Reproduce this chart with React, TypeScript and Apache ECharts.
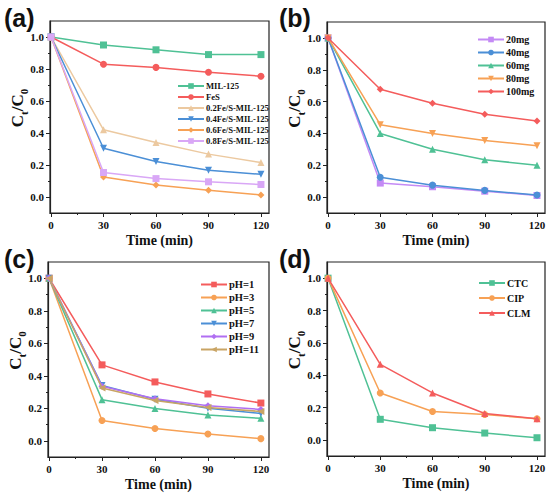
import React, { useEffect, useRef } from "react";
import * as echarts from "echarts";

const TIMES = [0, 30, 60, 90, 120];
const X_TICKS = [0, 30, 60, 90, 120];
const X_MINOR = [15, 45, 75, 105];
const Y_TICKS = [0, 0.2, 0.4, 0.6, 0.8, 1.0];
const Y_MINOR = [0.1, 0.3, 0.5, 0.7, 0.9];

// (a)
const A_NAMES = ["MIL-125", "FeS", "0.2Fe/S-MIL-125", "0.4Fe/S-MIL-125", "0.6Fe/S-MIL-125", "0.8Fe/S-MIL-125"];
const A_MIL = [1.0, 0.95, 0.92, 0.89, 0.89];
const A_FES = [1.0, 0.83, 0.81, 0.78, 0.755];
const A_02 = [1.0, 0.42, 0.34, 0.268, 0.215];
const A_04 = [1.0, 0.305, 0.222, 0.167, 0.142];
const A_06 = [1.0, 0.125, 0.075, 0.042, 0.013];
const A_08 = [1.0, 0.153, 0.115, 0.095, 0.078];

// (b)
const B_NAMES = ["20mg", "40mg", "60mg", "80mg", "100mg"];
const B_20 = [1.0, 0.088, 0.065, 0.037, 0.01];
const B_40 = [1.0, 0.125, 0.075, 0.042, 0.013];
const B_60 = [1.0, 0.4, 0.3, 0.235, 0.2];
const B_80 = [1.0, 0.455, 0.4, 0.355, 0.323];
const B_100 = [1.0, 0.677, 0.59, 0.52, 0.478];

// (c)
const C_NAMES = ["pH=1", "pH=3", "pH=5", "pH=7", "pH=9", "pH=11"];
const C_1 = [1.0, 0.467, 0.362, 0.288, 0.232];
const C_3 = [1.0, 0.125, 0.075, 0.042, 0.013];
const C_5 = [1.0, 0.253, 0.198, 0.158, 0.138];
const C_7 = [1.0, 0.34, 0.255, 0.2, 0.168];
const C_9 = [1.0, 0.335, 0.258, 0.215, 0.193];
const C_11 = [1.0, 0.325, 0.248, 0.205, 0.18];

// (d)
const D_NAMES = ["CTC", "CIP", "CLM"];
const D_CTC = [1.0, 0.127, 0.075, 0.042, 0.013];
const D_CIP = [1.0, 0.29, 0.175, 0.157, 0.13];
const D_CLM = [1.0, 0.467, 0.29, 0.163, 0.13];

const PANEL_LABELS = ["(a)", "(b)", "(c)", "(d)"];

const GREEN = "#4fc195";
const RED = "#f45c5c";
const TAN = "#ecc9a0";
const BLUE = "#4b8fd6";
const ORANGE = "#f7a155";
const LPURPLE = "#d9a7f6";
const PURPLE = "#c48af5";
const VIOLET = "#b06ff2";
const OLIVE = "#c9a464";

const SERIF = "'Liberation Serif', 'Times New Roman', serif";

const grids = [
  { left: 50, top: 21, width: 219, height: 192 },
  { left: 327, top: 22, width: 218, height: 191 },
  { left: 48, top: 262, width: 221, height: 195 },
  { left: 327, top: 262, width: 218, height: 194 },
];

const panels = [
  {
    names: A_NAMES,
    values: [A_MIL, A_FES, A_02, A_04, A_06, A_08],
    colors: [GREEN, RED, TAN, BLUE, ORANGE, LPURPLE],
    symbols: ["rect", "circle", "triangle", "path://M0,0 L10,0 L5,9 Z", "diamond", "rect"],
    legend: { left: 177, top: 81, fontSize: 8.6, lineHeight: 10, gap: 1 },
  },
  {
    names: B_NAMES,
    values: [B_20, B_40, B_60, B_80, B_100],
    colors: [PURPLE, BLUE, GREEN, ORANGE, RED],
    symbols: ["rect", "circle", "triangle", "path://M0,0 L10,0 L5,9 Z", "diamond"],
    legend: { left: 477, top: 34, fontSize: 10, lineHeight: 11, gap: 2 },
  },
  {
    names: C_NAMES,
    values: [C_1, C_3, C_5, C_7, C_9, C_11],
    colors: [RED, ORANGE, GREEN, BLUE, VIOLET, OLIVE],
    symbols: ["rect", "circle", "triangle", "path://M0,0 L10,0 L5,9 Z", "diamond", "path://M0,5 L9,0 L9,10 Z"],
    legend: { left: 200, top: 279, fontSize: 10.5, lineHeight: 11, gap: 2 },
  },
  {
    names: D_NAMES,
    values: [D_CTC, D_CIP, D_CLM],
    colors: [GREEN, ORANGE, RED],
    symbols: ["rect", "circle", "triangle"],
    legend: { left: 478, top: 277, fontSize: 10, lineHeight: 12, gap: 3 },
  },
];

function buildOption() {
  const xAxis: any[] = [];
  const yAxis: any[] = [];
  const series: any[] = [];
  const legend: any[] = [];
  const graphic: any[] = [];

  grids.forEach((g, i) => {
    const common = {
      gridIndex: i,
      type: "value",
      splitLine: { show: false },
    };
    xAxis.push({
      ...common,
      position: "bottom",
      min: -0.6,
      max: 124.6,
      name: "Time (min)",
      nameLocation: "middle",
      nameGap: 20,
      nameMoveOverlap: false,
      nameTextStyle: { fontFamily: SERIF, fontWeight: "bold", fontSize: 14, color: "#111" },
      axisLine: { onZero: false, lineStyle: { color: "#222", width: 1.2 } },
      axisTick: { show: true, customValues: X_TICKS, length: 4, lineStyle: { color: "#222", width: 1 } },
      axisLabel: {
        show: true,
        customValues: X_TICKS,
        margin: 6,
        fontFamily: SERIF,
        fontWeight: "bold",
        fontSize: 11,
        color: "#111",
      },
    });
    xAxis.push({
      ...common,
      position: "bottom",
      min: -0.6,
      max: 124.6,
      axisLine: { show: false, onZero: false },
      axisTick: { show: true, customValues: X_MINOR, length: 2, lineStyle: { color: "#222", width: 1 } },
      axisLabel: { show: false },
    });
    yAxis.push({
      ...common,
      position: "left",
      min: -0.1,
      max: 1.1,
      name: "{c|C}{s|t}{c|/C}{s|0}",
      nameLocation: "middle",
      nameGap: 22,
      nameMoveOverlap: false,
      nameTextStyle: {
        padding: [0, 0, 0, 18],
        rich: {
          c: { fontFamily: SERIF, fontWeight: "bold", fontSize: 17, lineHeight: 19, verticalAlign: "top", color: "#111" },
          s: { fontFamily: SERIF, fontWeight: "bold", fontSize: 11, lineHeight: 12, padding: [9, 0, 0, 0], verticalAlign: "top", color: "#111" },
        },
      },
      axisLine: { onZero: false, lineStyle: { color: "#222", width: 1.2 } },
      axisTick: { show: true, customValues: Y_TICKS, length: 4, lineStyle: { color: "#222", width: 1 } },
      axisLabel: {
        show: true,
        customValues: Y_TICKS,
        margin: 6,
        fontFamily: SERIF,
        fontWeight: "bold",
        fontSize: 11,
        color: "#111",
        formatter: (v: number) => v.toFixed(1),
      },
    });
    yAxis.push({
      ...common,
      position: "left",
      min: -0.1,
      max: 1.1,
      axisLine: { show: false, onZero: false },
      axisTick: { show: true, customValues: Y_MINOR, length: 2, lineStyle: { color: "#222", width: 1 } },
      axisLabel: { show: false },
    });

    const p = panels[i];
    p.names.forEach((name, k) => {
      series.push({
        type: "line",
        name,
        xAxisIndex: 2 * i,
        yAxisIndex: 2 * i,
        data: TIMES.map((t, j) => [t, p.values[k][j]]),
        symbol: p.symbols[k],
        symbolSize: 7,
        lineStyle: { color: p.colors[k], width: 1.5 },
        itemStyle: { color: p.colors[k] },
        z: 3 + k,
      });
    });
    legend.push({
      data: p.names,
      orient: "vertical",
      left: p.legend.left,
      top: p.legend.top,
      itemWidth: 26,
      itemHeight: 7,
      itemGap: p.legend.gap,
      padding: 0,
      selectedMode: false,
      textStyle: {
        fontFamily: SERIF,
        fontWeight: "bold",
        fontSize: p.legend.fontSize,
        lineHeight: p.legend.lineHeight,
        color: "#111",
        padding: [0, 0, 0, -3],
      },
    });
    graphic.push({
      type: "text",
      left: i % 2 === 0 ? 4 : 279,
      top: i < 2 ? 5 : 246,
      style: {
        text: PANEL_LABELS[i],
        fontFamily: "'Liberation Sans', Arial, sans-serif",
        fontWeight: "bold",
        fontSize: 25,
        fill: "#111",
      },
    });
  });

  return {
    animation: false,
    backgroundColor: "#ffffff",
    grid: grids.map((g) => ({ ...g, show: true, borderColor: "#222", borderWidth: 1.2, backgroundColor: "transparent" })),
    xAxis,
    yAxis,
    legend,
    series,
    graphic,
  };
}

export default function App() {
  const ref = useRef<HTMLDivElement>(null);
  useEffect(() => {
    if (!ref.current) return;
    const chart = echarts.init(ref.current, undefined, { renderer: "svg" });
    chart.setOption(buildOption() as any);
    return () => chart.dispose();
  }, []);
  return (
    <div
      ref={ref}
      style={{ position: "fixed", left: 0, top: 0, width: 550, height: 495, background: "#fff" }}
    />
  );
}
